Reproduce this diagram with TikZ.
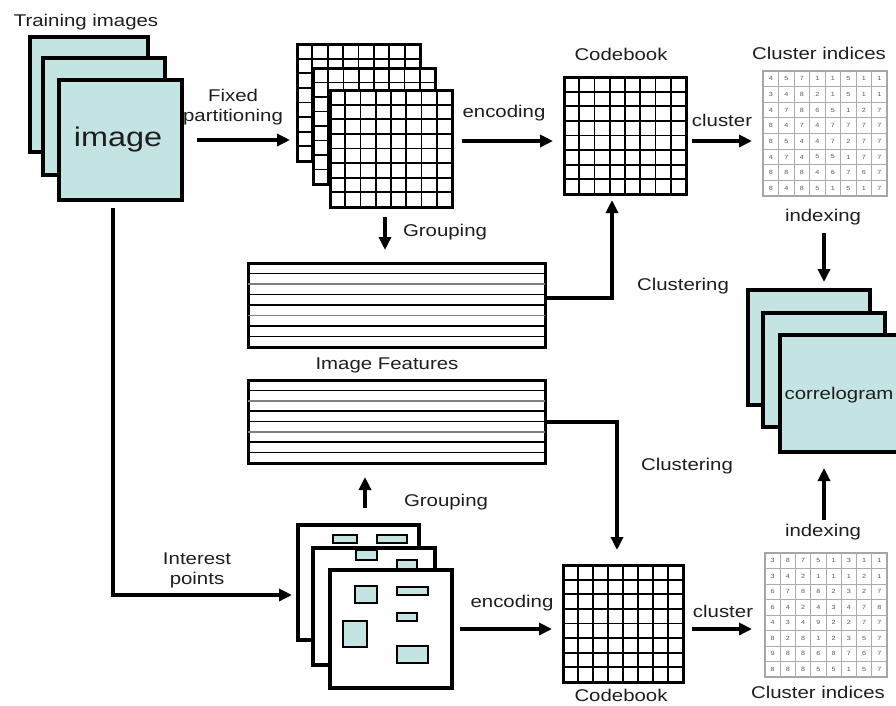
\documentclass[tikz,border=0pt]{standalone}
\usepackage{fontspec}
\setmainfont{Liberation Sans}[FakeStretch=1.2]
\usetikzlibrary{arrows.meta,calc}
\definecolor{cyanfill}{RGB}{196,228,228}
\definecolor{txt}{RGB}{30,30,30}
\newcommand\drawgridlines[2]{%
  \foreach \i in {1,...,7}{%
    \draw[#2] ($(#1.north west)!\i/8!(#1.north east)$) -- ($(#1.south west)!\i/8!(#1.south east)$);
    \draw[#2] ($(#1.north west)!\i/8!(#1.south west)$) -- ($(#1.north east)!\i/8!(#1.south east)$);
  }}
\newcommand\drawrowlines[1]{%
  \foreach \i/\c in {1/black,2/gray,3/black,4/black,5/gray,6/black,7/black}{%
    \draw[line width=1.7pt, draw=\c] ($(#1.north west)!\i/8!(#1.south west)$) -- ($(#1.north east)!\i/8!(#1.south east)$);
  }}
\begin{document}
\begin{tikzpicture}[x=1pt,y=-1pt,
  imgbox/.style={draw=black, line width=3.5pt, fill=cyanfill, inner sep=0pt, outer sep=0pt},
  gridbox/.style={draw=black, line width=3pt, fill=white, inner sep=0pt, outer sep=0pt},
  ptbox/.style={draw=black, line width=3.4pt, fill=white, inner sep=0pt, outer sep=0pt},
  spot/.style={draw=black, line width=1.1pt, fill=cyanfill, inner sep=0pt, outer sep=0pt},
  idxbox/.style={draw=gray!70, line width=1.1pt, fill=white, inner sep=0pt, outer sep=0pt},
  tablebox/.style={draw=black, line width=3pt, fill=white, inner sep=0pt, outer sep=0pt},
  gline/.style={line width=1.8pt, draw=black},
  iline/.style={line width=0.9pt, draw=gray!65},
  lbl/.style={font=\fontsize{17}{20}\selectfont, text=txt, inner sep=0pt, align=center},
  dig/.style={font=\fontsize{6}{6}\selectfont, text=black!65, inner sep=0pt},
  arr/.style={line width=3.4pt, -{Triangle[length=13pt,width=12pt]}}
]
\useasboundingbox[fill=white] (0,0) rectangle (896,705);

% ---------- training images stack
\node[imgbox, minimum width=118pt, minimum height=115pt] (img1) at (89,94.5) {};
\node[imgbox, minimum width=122pt, minimum height=117pt] (img2) at (104,116.5) {};
\node[imgbox, minimum width=123pt, minimum height=120pt] (img3) at (120.5,140) {};
\node[lbl, font=\fontsize{27}{30}\selectfont] (imgtxt) at (118,140) {image};
\node[lbl] (ltrain) at (86,22) {Training images};

% ---------- partition grid stack
\node[gridbox, minimum width=123pt, minimum height=117pt] (gA) at (358.5,102.5) {};
\drawgridlines{gA}{gline}
\node[gridbox, minimum width=122pt, minimum height=116pt] (gB) at (374,126) {};
\drawgridlines{gB}{gline}
\node[gridbox, minimum width=122pt, minimum height=117pt] (gC) at (391,148.5) {};
\drawgridlines{gC}{gline}

% ---------- codebooks
\node[gridbox, minimum width=122pt, minimum height=117pt] (cb1) at (625,135.5) {};
\drawgridlines{cb1}{gline}
\node[gridbox, minimum width=120pt, minimum height=117pt] (cb2) at (623,623.5) {};
\drawgridlines{cb2}{gline}

% ---------- cluster index tables
\node[idxbox, minimum width=124pt, minimum height=125pt] (ci1) at (825,133.5) {};
\drawgridlines{ci1}{iline}
\node[idxbox, minimum width=122pt, minimum height=124pt] (ci2) at (826,615) {};
\drawgridlines{ci2}{iline}
\foreach \row [count=\r] in {{4,5,7,1,1,5,1,1},{3,4,8,2,1,5,1,1},{4,7,8,6,5,1,2,7},{8,4,7,4,7,7,7,7},{8,5,4,4,7,2,7,7},{4,7,4,5,5,1,7,7},{8,8,8,4,6,7,6,7},{8,4,8,5,1,5,1,7}}{
  \foreach \d [count=\c] in \row {
    \node[dig] (da\r\c) at ({763+(\c-0.5)*15.5},{71+(\r-0.5)*15.625}) {\d};
  }}
\foreach \row [count=\r] in {{3,8,7,5,1,3,1,1},{3,4,2,1,1,1,2,1},{6,7,8,8,2,3,2,7},{6,4,2,4,3,4,7,8},{4,3,4,9,2,2,7,7},{8,2,8,1,2,3,5,7},{9,8,8,6,8,7,6,7},{8,8,8,5,5,1,5,7}}{
  \foreach \d [count=\c] in \row {
    \node[dig] (db\r\c) at ({765+(\c-0.5)*15.25},{553+(\r-0.5)*15.5}) {\d};
  }}

% ---------- correlogram stack
\node[imgbox, minimum width=122pt, minimum height=115pt] (c1) at (809,347.5) {};
\node[imgbox, minimum width=122pt, minimum height=114pt] (c2) at (824,370) {};
\node[imgbox, minimum width=122pt, minimum height=117pt] (c3) at (841,393.5) {};
\node[lbl] (ctxt) at (839,395) {correlogram};

% ---------- feature tables
\node[tablebox, minimum width=297pt, minimum height=84pt] (f1) at (396.5,305) {};
\drawrowlines{f1}
\node[tablebox, minimum width=297pt, minimum height=83pt] (f2) at (396.5,421.5) {};
\drawrowlines{f2}
\node[lbl] (lfeat) at (387,365) {Image Features};

% ---------- interest point stack
\node[ptbox, minimum width=121pt, minimum height=115pt] (p1) at (358.5,582.5) {};
\node[spot, minimum width=24pt, minimum height=8pt] (s1) at (345,539) {};
\node[spot, minimum width=30pt, minimum height=8pt] (s2) at (392,539) {};
\node[ptbox, minimum width=122pt, minimum height=117pt] (p2) at (374,606.5) {};
\node[spot, minimum width=21pt, minimum height=10pt] (s3) at (366.5,555) {};
\node[spot, minimum width=20pt, minimum height=10pt] (s4) at (407,565) {};
\node[ptbox, minimum width=122pt, minimum height=118pt] (p3) at (391,629) {};
\node[spot, minimum width=22pt, minimum height=17pt] (s5) at (366,594.5) {};
\node[spot, minimum width=31pt, minimum height=8pt] (s6) at (412.5,591) {};
\node[spot, minimum width=20pt, minimum height=8pt] (s7) at (407,617) {};
\node[spot, minimum width=24pt, minimum height=26pt] (s8) at (355,634) {};
\node[spot, minimum width=31pt, minimum height=17pt] (s9) at (412.5,654.5) {};

% ---------- labels
\node[lbl] (lfixed) at (233,107) {Fixed\\partitioning};
\node[lbl] (lenc1) at (504,113) {encoding};
\node[lbl] (lcb1) at (621,54) {Codebook};
\node[lbl] (lci1) at (819,53) {Cluster indices};
\node[lbl] (lcl1) at (722,120) {cluster};
\node[lbl] (lidx1) at (823,217) {indexing};
\node[lbl] (lgr1) at (445,232) {Grouping};
\node[lbl] (lclu1) at (683,286) {Clustering};
\node[lbl] (lclu2) at (687,466) {Clustering};
\node[lbl] (lgr2) at (446,502) {Grouping};
\node[lbl] (lint) at (197,570) {Interest\\points};
\node[lbl] (lenc2) at (512,603) {encoding};
\node[lbl] (lcl2) at (723,611) {cluster};
\node[lbl] (lcb2) at (621,695) {Codebook};
\node[lbl] (lidx2) at (823,532) {indexing};
\node[lbl] (lci2) at (818,692) {Cluster indices};

% ---------- connectors
\draw[arr, shorten <=15pt, shorten >=7pt] (img3.east) -- (img3.east -| gA.west);
\draw[arr, shorten <=10pt, shorten >=11pt] ([yshift=7.5pt]gC.east) -- ([yshift=7.5pt]gC.east -| cb1.west);
\draw[arr, shorten <=6pt, shorten >=11pt] ([yshift=-5.5pt]cb1.east) -- ([yshift=-5.5pt]cb1.east -| ci1.west);
\draw[arr, shorten <=37pt, shorten >=8pt] ([xshift=-1pt]ci1.south) -- ([xshift=-1pt]ci1.south |- c1.north);
\draw[arr, shorten <=33pt, shorten >=16pt] ([xshift=-2pt]ci2.north) -- ([xshift=-2pt]ci2.north |- c3.south);
\draw[arr, shorten <=10pt, shorten >=13pt] ([xshift=-6pt]gC.south) -- ([xshift=-6pt]gC.south |- f1.north);
\draw[arr, shorten >=6pt] ([yshift=7pt]f1.east) -| ([xshift=-13pt]cb1.south);
\draw[arr, shorten >=15pt] ([yshift=-0.5pt]f2.east) -| ([xshift=-6pt]cb2.north);
\draw[arr, shorten <=17pt, shorten >=14pt] ([xshift=6.5pt]p1.north) -- ([xshift=6.5pt]p1.north |- f2.south);
\draw[arr, shorten <=8pt, shorten >=6pt] ([xshift=-7.5pt]img3.south) |- ([yshift=-12.5pt]p1.west);
\draw[arr, shorten <=8pt, shorten >=11pt] (p3.east) -- (p3.east -| cb2.west);
\draw[arr, shorten <=9pt, shorten >=13pt] ([yshift=-5.5pt]cb2.east) -- ([yshift=-5.5pt]cb2.east -| ci2.west);
\end{tikzpicture}
\end{document}
